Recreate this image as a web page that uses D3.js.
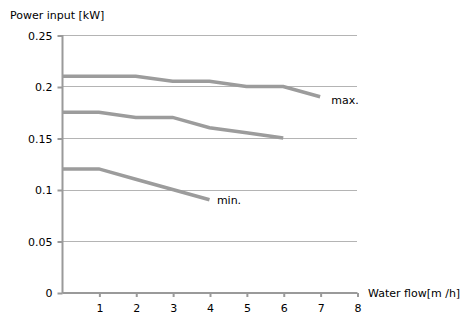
<!DOCTYPE html>
<html>
<head>
<meta charset="utf-8">
<script src="https://cdn.jsdelivr.net/npm/d3@7"></script>
<style>
  body { margin: 0; background: #fff; }
  text { font-family: "DejaVu Sans", Verdana, sans-serif; font-size: 11px; fill: #000; }
</style>
</head>
<body>
<div class="chartWrap"></div>
<script>
var xTicks = [1, 2, 3, 4, 5, 6, 7, 8];
var yTicks = [0, 0.05, 0.1, 0.15, 0.2, 0.25];
var maxFlow = [0, 1, 2, 3, 4, 5, 6, 7];
var maxPower = [0.21, 0.21, 0.21, 0.205, 0.205, 0.2, 0.2, 0.19];
var midFlow = [0, 1, 2, 3, 4, 5, 6];
var midPower = [0.175, 0.175, 0.17, 0.17, 0.16, 0.155, 0.15];
var minFlow = [0, 1, 2, 3, 4];
var minPower = [0.12, 0.12, 0.11, 0.1, 0.09];

var width = 469, height = 315;
var plotLeft = 62, plotRight = 357, plotTop = 35, plotBottom = 292.5;

var svg = d3.select('.chartWrap').append('svg')
  .attr('width', width).attr('height', height);

var x = d3.scaleLinear().domain([0, 8]).range([plotLeft, plotRight]);
var y = d3.scaleLinear().domain([0, 0.25]).range([plotBottom, plotTop]);

// gridlines
svg.selectAll('.grid')
  .data(yTicks.filter(function(d){ return d > 0; }))
  .enter().append('line')
    .attr('x1', plotLeft).attr('x2', plotRight)
    .attr('y1', function(d){ return Math.round(y(d)) + 0.5; })
    .attr('y2', function(d){ return Math.round(y(d)) + 0.5; })
    .style('stroke', '#b4b4b4').style('stroke-width', 1);

// y axis
var yAxis = svg.append('g')
  .attr('transform', 'translate(' + (plotLeft + 0.5) + ',0.5)')
  .call(d3.axisLeft(y).tickValues(yTicks).tickSize(5).tickPadding(5)
    .tickFormat(function(d){ return String(+d.toFixed(2)); }));
yAxis.select('.domain').remove();
yAxis.append('line').attr('x1', 0).attr('x2', 0)
  .attr('y1', plotTop - 0.5).attr('y2', Math.round(plotBottom));
yAxis.selectAll('line').style('stroke', '#9a9a9a').style('stroke-width', 2);
yAxis.selectAll('text').style('font-size', '11px').style('font-family', '"DejaVu Sans", Verdana, sans-serif');

// x axis
var xAxis = svg.append('g')
  .attr('transform', 'translate(0.5,' + Math.round(plotBottom) + ')')
  .call(d3.axisBottom(x).tickValues(xTicks).tickSize(4).tickPadding(7));
xAxis.select('.domain').remove();
xAxis.append('line').attr('x1', plotLeft).attr('x2', plotRight).attr('y1', 0).attr('y2', 0);
xAxis.selectAll('line').style('stroke', '#9a9a9a').style('stroke-width', 2);
xAxis.selectAll('text').style('font-size', '11px').style('font-family', '"DejaVu Sans", Verdana, sans-serif');

// series
var line = d3.line().x(function(d){ return x(d[0]); }).y(function(d){ return y(d[1]); });
var series = [
  d3.zip(maxFlow, maxPower),
  d3.zip(midFlow, midPower),
  d3.zip(minFlow, minPower)
];
svg.selectAll('.series')
  .data(series)
  .enter().append('path')
    .attr('d', line)
    .style('fill', 'none')
    .style('stroke', '#9c9c9c')
    .style('stroke-width', 3.5);

// labels
svg.append('text').attr('x', 10).attr('y', 19).text('Power input [kW]');
svg.append('text').attr('x', 368).attr('y', 297).text('Water flow[m /h]');
svg.append('text').attr('x', x(7.3)).attr('y', y(0.183)).text('max.');
svg.append('text').attr('x', x(4.2)).attr('y', y(0.086)).text('min.');
</script>
</body>
</html>
